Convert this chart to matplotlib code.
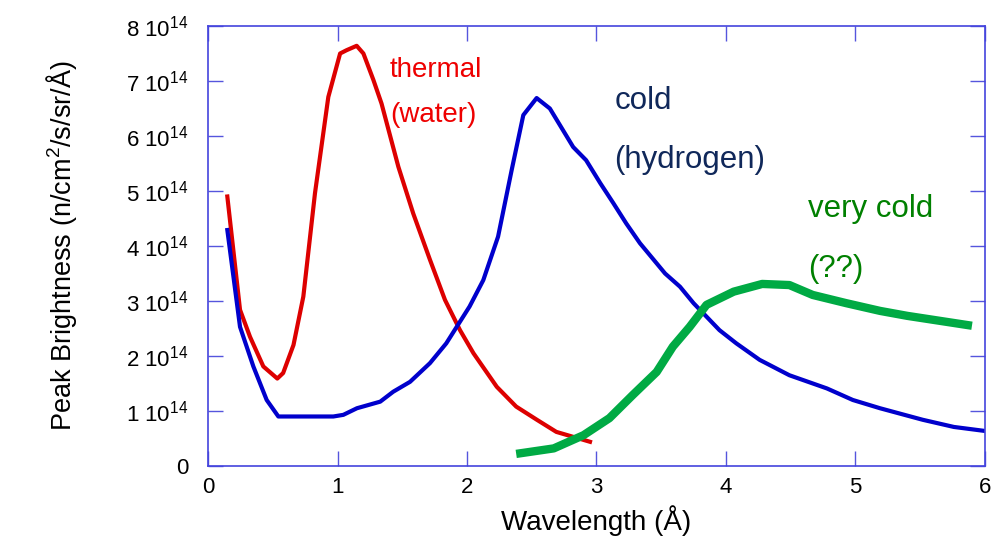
import matplotlib
matplotlib.use("Agg")
import matplotlib.pyplot as plt

plt.rcParams['font.family'] = ['Liberation Sans', 'DejaVu Sans']
plt.rcParams['mathtext.fontset'] = 'custom'
plt.rcParams['mathtext.rm'] = 'Liberation Sans'
plt.rcParams['mathtext.it'] = 'Liberation Sans'

# thermal (water) moderator
thermal_x = [0.149, 0.247, 0.324, 0.427, 0.535, 0.58, 0.66, 0.736, 0.826, 0.929, 1.02, 1.07,
             1.148, 1.2, 1.277, 1.34, 1.47, 1.585, 1.714, 1.83, 1.946, 2.05, 2.23, 2.38,
             2.54, 2.69, 2.95]
thermal_y = [4.9, 2.84, 2.35, 1.81, 1.59, 1.69, 2.2, 3.08, 4.96, 6.71, 7.5, 7.56,
             7.64, 7.5, 7.02, 6.59, 5.44, 4.59, 3.75, 3.02, 2.47, 2.05, 1.44, 1.08,
             0.84, 0.62, 0.44]

# cold (hydrogen) moderator
cold_x = [0.149, 0.247, 0.35, 0.453, 0.543, 0.968, 1.045, 1.15, 1.33, 1.43, 1.56, 1.714,
          1.84, 2.02, 2.126, 2.24, 2.345, 2.435, 2.538, 2.64, 2.82, 2.92, 3.03, 3.13,
          3.23, 3.336, 3.53, 3.645, 3.75, 3.95, 4.08, 4.26, 4.49, 4.78, 4.98, 5.19,
          5.52, 5.76, 5.99]
cold_y = [4.29, 2.53, 1.81, 1.2, 0.9, 0.9, 0.93, 1.05, 1.17, 1.35, 1.53, 1.87,
          2.23, 2.9, 3.38, 4.17, 5.38, 6.38, 6.69, 6.5, 5.8, 5.56, 5.14, 4.78,
          4.41, 4.05, 3.5, 3.26, 2.96, 2.47, 2.23, 1.93, 1.65, 1.41, 1.2, 1.05,
          0.84, 0.71, 0.64]

# very cold (??)
vcold_x = [2.38, 2.67, 2.9, 3.10, 3.28, 3.465, 3.59, 3.72, 3.85, 4.06, 4.28, 4.49,
           4.67, 4.93, 5.19, 5.40, 5.90]
vcold_y = [0.22, 0.32, 0.56, 0.87, 1.29, 1.71, 2.17, 2.53, 2.93, 3.17, 3.31, 3.29,
           3.11, 2.96, 2.82, 2.73, 2.55]

y_ticks = [0, 1, 2, 3, 4, 5, 6, 7, 8]
y_labels = ['0'] + [r'%d $\mathregular{10^{14}}$' % v for v in y_ticks[1:]]
x_ticks = [0, 1, 2, 3, 4, 5, 6]

fig = plt.figure(figsize=(10.05, 5.44), dpi=100)
ax = fig.add_axes([0.207, 0.1434, 0.773, 0.8088])

ax.plot(thermal_x, thermal_y, color='#dd0000', lw=3, solid_joinstyle='round')
ax.plot(cold_x, cold_y, color='#0000cc', lw=3, solid_joinstyle='round')
ax.plot(vcold_x, vcold_y, color='#00aa44', lw=6, solid_capstyle='butt')

ax.text(1.405, 7.07, 'thermal', color='#ee0000', fontsize=20, va='baseline')
ax.text(1.405, 6.25, '(water)', color='#ee0000', fontsize=20, va='baseline')
ax.text(3.14, 6.5, 'cold', color='#10285a', fontsize=22.5, va='baseline')
ax.text(3.14, 5.41, '(hydrogen)', color='#10285a', fontsize=22.5, va='baseline')
ax.text(4.636, 4.53, 'very cold', color='#008000', fontsize=22.5, va='baseline')
ax.text(4.636, 3.44, '(??)', color='#008000', fontsize=22.5, va='baseline')

ax.set_xlim(0, 6)
ax.set_ylim(0, 8)
ax.set_xticks(x_ticks)
ax.set_yticks(y_ticks)
ax.set_yticklabels(y_labels)
ax.tick_params(direction='in', length=11, width=1, color='#5555dd',
               top=True, right=True, labelsize=16)
ax.tick_params(axis='y', pad=14)
ax.tick_params(axis='x', pad=8)
for s in ax.spines.values():
    s.set_color('#4444dd')
    s.set_linewidth(1.2)

ax.set_xlabel('Wavelength (Å)', fontsize=20)
ax.set_ylabel(r'Peak Brightness (n/cm$\mathregular{^2}$/s/sr/Å)', fontsize=19.5)
ax.xaxis.set_label_coords(0.5, -0.088)
ax.yaxis.set_label_coords(-0.166, 0.5)

fig.savefig('out.png', dpi=100)
